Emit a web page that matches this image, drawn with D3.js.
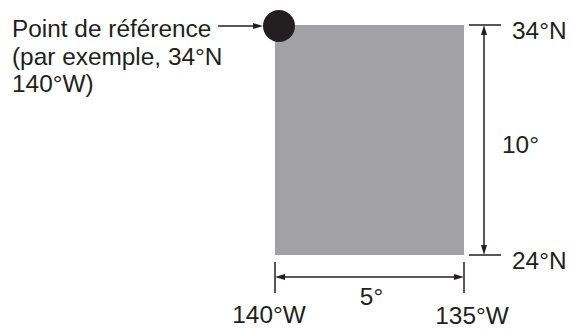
<!DOCTYPE html>
<html>
<head>
<meta charset="utf-8">
<script src="https://cdn.jsdelivr.net/npm/d3@7"></script>
<style>
  body { margin: 0; background: #fff; }
  text { font-family: "Liberation Sans", Arial, sans-serif; fill: #231f20; }
</style>
</head>
<body>
<div id="chart"></div>
<script>
// box corners (degrees, west negative)
const lonBounds = [-140, -135];
const latBounds = [24, 34];
const lonLabels = ["140°W", "135°W"];
const latLabels = ["24°N", "34°N"];
const spanLabels = ["5°", "10°"];
const refLines = ["Point de référence", "(par exemple, 34°N", "140°W)"];

const width = 571, height = 329;
const ink = "#231f20";

const svg = d3.select("#chart")
  .append("svg")
    .attr("width", width)
    .attr("height", height);

const x = d3.scaleLinear().domain(lonBounds).range([275, 464]);
const y = d3.scaleLinear().domain(latBounds).range([255, 25]);

// arrow heads
const defs = svg.append("defs");
function marker(id, path) {
  defs.append("marker")
    .attr("id", id)
    .attr("markerUnits", "userSpaceOnUse")
    .attr("viewBox", "0 0 10 10")
    .attr("refX", 5).attr("refY", 5)
    .attr("markerWidth", 10).attr("markerHeight", 10)
    .attr("orient", "auto")
  .append("path")
    .attr("d", path)
    .attr("fill", ink);
}
marker("head", "M10,5 L0,2 L0,8 Z");
marker("tail", "M0,5 L10,2 L10,8 Z");

// grey box
svg.append("rect")
  .attr("x", x(lonBounds[0]))
  .attr("y", y(latBounds[1]))
  .attr("width", x(lonBounds[1]) - x(lonBounds[0]))
  .attr("height", y(latBounds[0]) - y(latBounds[1]))
  .attr("fill", "#a2a2a5");

// reference point
svg.append("circle")
  .attr("cx", x(lonBounds[0]) + 4)
  .attr("cy", y(latBounds[1]) + 1)
  .attr("r", 16)
  .attr("fill", ink);

// pointer from label
svg.append("line")
  .attr("x1", 218).attr("x2", x(lonBounds[0]) - 17)
  .attr("y1", y(latBounds[1]) + 1).attr("y2", y(latBounds[1]) + 1)
  .attr("stroke", ink).attr("stroke-width", 1.5)
  .attr("marker-end", "url(#head)");

svg.append("text")
  .attr("x", 12)
  .attr("y", 37)
  .style("font-size", "24.4px")
  .selectAll("tspan")
  .data(refLines)
  .join("tspan")
    .attr("x", 12)
    .attr("dy", (d, i) => i === 0 ? 0 : 27.5)
    .text(d => d);

// vertical dimension (latitude)
const vx = 484;
svg.selectAll(".lat-tick")
  .data(latBounds)
  .join("line")
    .attr("x1", vx - 15).attr("x2", vx + 17)
    .attr("y1", d => y(d)).attr("y2", d => y(d))
    .attr("stroke", ink).attr("stroke-width", 1.5);

svg.append("line")
  .attr("x1", vx).attr("x2", vx)
  .attr("y1", y(latBounds[1]) + 5).attr("y2", y(latBounds[0]) - 5)
  .attr("stroke", ink).attr("stroke-width", 1.5)
  .attr("marker-start", "url(#tail)")
  .attr("marker-end", "url(#head)");

svg.selectAll(".lat-label")
  .data(latBounds)
  .join("text")
    .attr("x", 512)
    .attr("y", d => y(d) + 8)
    .attr("dominant-baseline", "middle")
    .style("font-size", "24.4px")
    .text((d, i) => latLabels[i]);

svg.append("text")
  .attr("x", 502)
  .attr("y", 153)
  .style("font-size", "24.4px")
  .text(spanLabels[1]);

// horizontal dimension (longitude)
const hy = 277;
svg.selectAll(".lon-tick")
  .data(lonBounds)
  .join("line")
    .attr("x1", d => x(d)).attr("x2", d => x(d))
    .attr("y1", hy - 15).attr("y2", hy + 16)
    .attr("stroke", ink).attr("stroke-width", 1.5);

svg.append("line")
  .attr("x1", x(lonBounds[0]) + 5).attr("x2", x(lonBounds[1]) - 5)
  .attr("y1", hy).attr("y2", hy)
  .attr("stroke", ink).attr("stroke-width", 1.5)
  .attr("marker-start", "url(#tail)")
  .attr("marker-end", "url(#head)");

svg.append("text")
  .attr("x", (x(lonBounds[0]) + x(lonBounds[1])) / 2 + 2)
  .attr("y", 305)
  .attr("text-anchor", "middle")
  .style("font-size", "24.4px")
  .text(spanLabels[0]);

svg.selectAll(".lon-label")
  .data(lonBounds)
  .join("text")
    .attr("x", (d, i) => x(d) + (i === 0 ? -6 : 8))
    .attr("y", (d, i) => i === 0 ? 323 : 324)
    .attr("text-anchor", "middle")
    .style("font-size", "24.4px")
    .text((d, i) => lonLabels[i]);
</script>
</body>
</html>
